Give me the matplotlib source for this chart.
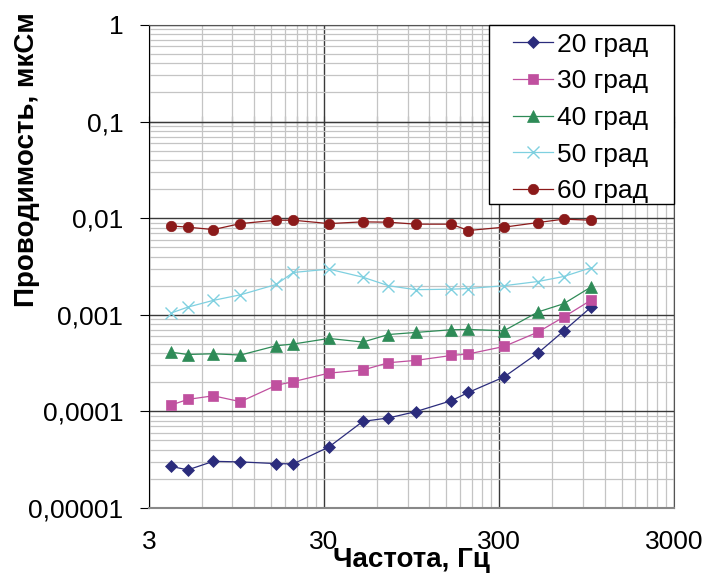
import matplotlib
matplotlib.use("Agg")
import matplotlib.pyplot as plt
from matplotlib.patches import Rectangle
from matplotlib.ticker import FixedLocator, FixedFormatter, NullFormatter

plt.rcParams['font.family'] = ['Liberation Sans', 'DejaVu Sans']

freq = [4, 5, 7, 10, 16, 20, 32, 50, 70, 100, 160, 200, 320, 500, 700, 1000]

g20 = [2.70e-5, 2.48e-5, 3.04e-5, 3.00e-5, 2.88e-5, 2.86e-5, 4.28e-5, 7.88e-5,
       8.55e-5, 9.93e-5, 1.29e-4, 1.57e-4, 2.27e-4, 4.02e-4, 6.78e-4, 1.19e-3]
g30 = [1.16e-4, 1.33e-4, 1.45e-4, 1.26e-4, 1.86e-4, 2.03e-4, 2.49e-4, 2.68e-4,
       3.19e-4, 3.37e-4, 3.79e-4, 3.93e-4, 4.70e-4, 6.62e-4, 9.46e-4, 1.41e-3]
g40 = [4.11e-4, 3.88e-4, 3.95e-4, 3.83e-4, 4.78e-4, 4.98e-4, 5.69e-4, 5.22e-4,
       6.25e-4, 6.56e-4, 7.00e-4, 7.05e-4, 6.84e-4, 1.07e-3, 1.30e-3, 1.93e-3]
g50 = [1.04e-3, 1.20e-3, 1.41e-3, 1.61e-3, 2.06e-3, 2.74e-3, 2.97e-3, 2.45e-3,
       2.00e-3, 1.82e-3, 1.84e-3, 1.87e-3, 2.00e-3, 2.21e-3, 2.49e-3, 3.06e-3]
g60 = [8.32e-3, 8.07e-3, 7.62e-3, 8.79e-3, 9.53e-3, 9.53e-3, 8.79e-3, 9.16e-3,
       9.09e-3, 8.67e-3, 8.67e-3, 7.45e-3, 8.07e-3, 9.01e-3, 9.77e-3, 9.53e-3]

labels = ['20 град', '30 град', '40 град', '50 град', '60 град']
x_ticks = [3, 30, 300, 3000]
x_ticklabels = ['3', '30', '300', '3000']
y_ticks = [1e-5, 1e-4, 1e-3, 1e-2, 1e-1, 1]
y_ticklabels = ['0,00001', '0,0001', '0,001', '0,01', '0,1', '1']

fig = plt.figure(figsize=(7.09, 5.74), dpi=100)
ax = fig.add_axes([0.210, 0.115, 0.741, 0.8415])

styles = [
    (g20, '#2B2C7C', 'D', 6),
    (g30, '#C0509F', 's', 7.5),
    (g40, '#2E8B57', '^', 8.5),
    (g50, '#7FD0E0', 'x', 8.5),
    (g60, '#8B1A1A', 'o', 7.5),
]
for (vals, col, mk, ms), lab in zip(styles, labels):
    ax.plot(freq, vals, color=col, marker=mk, markersize=ms, linewidth=0.9,
            markeredgewidth=1.0 if mk == 'x' else 0.5, label=lab, zorder=3)

ax.set_xscale('log')
ax.set_yscale('log')
ax.set_xlim(3, 3000)
ax.set_ylim(1e-5, 1)

# excel-style log axis starting at 3: grid at 3*k*10^n
x_minor = [3 * k * 10 ** n for n in range(3) for k in range(2, 10)]
y_minor = [k * 10.0 ** n for n in range(-5, 0) for k in range(2, 10)]
ax.xaxis.set_major_locator(FixedLocator(x_ticks))
ax.xaxis.set_major_formatter(FixedFormatter(x_ticklabels))
ax.xaxis.set_minor_locator(FixedLocator(x_minor))
ax.xaxis.set_minor_formatter(NullFormatter())
ax.yaxis.set_major_locator(FixedLocator(y_ticks))
ax.yaxis.set_major_formatter(FixedFormatter(y_ticklabels))
ax.yaxis.set_minor_locator(FixedLocator(y_minor))
ax.yaxis.set_minor_formatter(NullFormatter())

ax.grid(which='minor', color='#C4C4C4', linewidth=0.9)
ax.grid(which='major', color='#3A3A3A', linewidth=1.0)
ax.set_axisbelow(True)

ax.tick_params(axis='y', which='major', direction='out', length=6.5, width=0.8,
               labelsize=19, pad=12)
ax.tick_params(axis='y', which='minor', length=0)
ax.tick_params(axis='x', which='major', length=0, labelsize=19, pad=16)
ax.tick_params(axis='x', which='minor', length=0)

for side in ['top', 'right']:
    ax.spines[side].set_color('#555555')
ax.spines['left'].set_color('black')
ax.spines['bottom'].set_color('#888888')
ax.spines['bottom'].set_linewidth(1.5)

# horizontal axis line crossing at 0.1 with tick marks
sec = ax.secondary_xaxis(0.8)
sec.set_xscale('log')
sec.xaxis.set_major_locator(FixedLocator(x_ticks))
sec.xaxis.set_minor_locator(FixedLocator(x_minor))
sec.xaxis.set_major_formatter(NullFormatter())
sec.xaxis.set_minor_formatter(NullFormatter())
sec.tick_params(which='both', direction='inout', length=9, width=0.8, color='black')
sec.spines['bottom'].set_color('black')

ax.set_ylabel('Проводимость, мкСм', fontsize=20, fontweight='bold')
ax.yaxis.set_label_coords(-0.208, 0.7205)
ax.set_xlabel('Частота, Гц', fontsize=20, fontweight='bold', labelpad=-5)

# legend box
ax.add_patch(Rectangle((0.6476, 0.6294), 0.3524, 0.3706, transform=ax.transAxes,
                       facecolor='white', edgecolor='black', linewidth=1.0,
                       zorder=4, clip_on=False))
leg = ax.legend(loc='upper left', bbox_to_anchor=(0.6933, 0.984), fontsize=19,
                frameon=False, borderpad=0, borderaxespad=0,
                handlelength=1.5, handletextpad=0.15, labelspacing=0.48)
leg.set_zorder(5)

fig.savefig('out.png', dpi=100)
